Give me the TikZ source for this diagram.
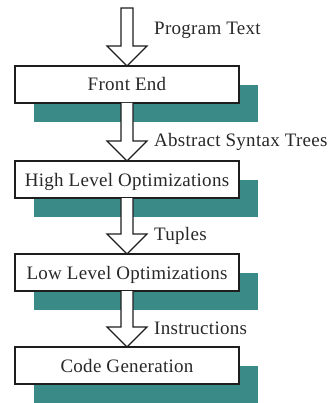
\documentclass[tikz,border=0pt]{standalone}
\usepackage{fontspec}
\setmainfont[LetterSpace=1.5]{Liberation Serif}
\usetikzlibrary{calc,backgrounds}

\definecolor{shadowteal}{RGB}{58,139,136}
\definecolor{inkline}{RGB}{30,30,30}
\definecolor{inktext}{RGB}{40,40,40}

\tikzset{
  stage/.style={draw=inkline, line width=1.3pt, fill=white,
    minimum width=224pt, minimum height=37pt, inner sep=0pt, outer sep=0pt,
    text height=13pt, text depth=0pt, text=inktext,
    font=\fontsize{19}{22}\selectfont},
  stageshadow/.style={fill=shadowteal, draw=none},
  flowlabel/.style={anchor=base west, inner sep=0pt, text=inktext,
    font=\fontsize{19}{22}\selectfont},
  hollow/.style={draw=inkline, line width=1.2pt, fill=white, line join=miter},
}

% hollow block arrow from #1 down to #2; #3 may close the tail
\newcommand\hollowarrow[3]{%
  \draw[hollow] let \p1=(#1), \p2=(#2) in
    (\x1-6pt,\y1) -- (\x1-6pt,\y2+20pt) -- (\x1-20pt,\y2+20pt) -- (\x2,\y2)
    -- (\x1+20pt,\y2+20pt) -- (\x1+6pt,\y2+20pt) -- (\x1+6pt,\y1) #3;
}

\begin{document}
\begin{tikzpicture}[x=1pt,y=1pt]
  \useasboundingbox (0,0) rectangle (331,-403);

  % pipeline stages
  \node[stage] (fe)  at (127,-84.5)  {Front End};
  \node[stage] (hlo) at (127,-179.5) {High Level Optimizations};
  \node[stage] (llo) at (127,-272.5) {Low Level Optimizations};
  \node[stage] (cg)  at (127,-365.5) {Code Generation};

  % offset drop shadows behind each stage
  \begin{scope}[on background layer]
    \foreach \s in {fe,hlo,llo,cg}
      \fill[stageshadow] ($(\s.north west)+(19,-19)$) rectangle ($(\s.south east)+(19,-19)$);
  \end{scope}

  % input entering the front end
  \coordinate (src) at (127,-8);
  \hollowarrow{src}{fe.north}{-- cycle}

  % data passed between stages
  \hollowarrow{fe.south}{hlo.north}{}
  \hollowarrow{hlo.south}{llo.north}{}
  \hollowarrow{llo.south}{cg.north}{}

  % what flows along each arrow
  \node[flowlabel] (t1) at (154,-35)  {Program Text};
  \node[flowlabel] (t2) at (154,-147) {Abstract Syntax Trees};
  \node[flowlabel] (t3) at (154,-240) {Tuples};
  \node[flowlabel] (t4) at (154,-334) {Instructions};
\end{tikzpicture}
\end{document}
